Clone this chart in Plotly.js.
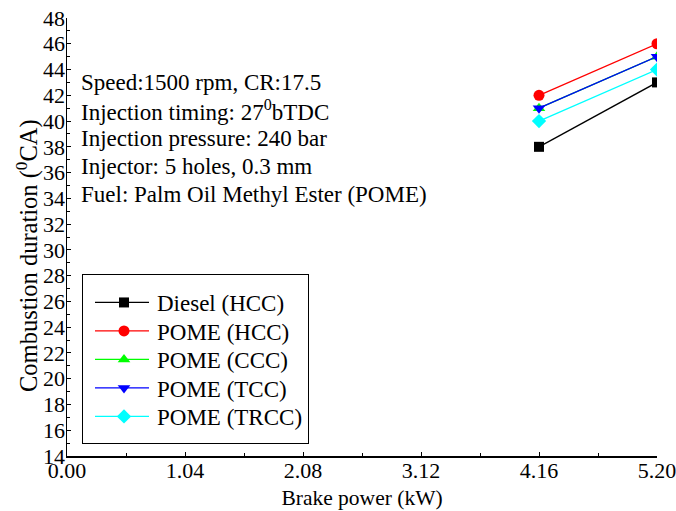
<!DOCTYPE html>
<html>
<head>
<meta charset="utf-8">
<script src="https://cdn.plot.ly/plotly-3.0.1.min.js"></script>
<style>html,body{margin:0;padding:0;background:#fff;}#chart{width:676px;height:511px;}</style>
</head>
<body>
<div id="chart"></div>
<script>
const brakePower = [4.16, 5.20];
const seriesNames = ["Diesel (HCC)", "POME (HCC)", "POME (CCC)", "POME (TCC)", "POME (TRCC)"];
const dieselHCC = [38, 43];
const pomeHCC = [42, 46];
const pomeCCC = [41, 45];
const pomeTCC = [41, 45];
const pomeTRCC = [40, 44];
const xTickVals = [0.00, 1.04, 2.08, 3.12, 4.16, 5.20];
const xTickText = ["0.00", "1.04", "2.08", "3.12", "4.16", "5.20"];
const xTitle = "Brake power (kW)";
const yTitle = "Combustion duration (<sup>0</sup>CA)";
const infoLines = [
  "Speed:1500 rpm, CR:17.5",
  "Injection timing: 27<sup>0</sup>bTDC",
  "Injection pressure: 240 bar",
  "Injector: 5 holes, 0.3 mm",
  "Fuel: Palm Oil Methyl Ester (POME)"
];

const FONT = "Liberation Serif";
const colors = ["#000000", "#FF0000", "#00FF00", "#0000FF", "#00FFFF"];
const symbols = ["square", "circle", "triangle-up", "triangle-down", "diamond"];
const sizes = [10, 11, 11, 11, 11];
const values = [dieselHCC, pomeHCC, pomeCCC, pomeTCC, pomeTRCC];

const traces = values.map((v, i) => ({
  x: brakePower, y: v, name: seriesNames[i], type: "scatter", mode: "lines+markers",
  line: {color: colors[i], width: 1.3},
  marker: {color: colors[i], symbol: symbols[i], size: sizes[i]},
  cliponaxis: true
}));

const L = 67, R = 657, T = 18, B = 456;
const px2x = p => (p - L) / (R - L);
const px2y = p => (B - p) / (B - T);
const linePx = [83, 110, 138, 167, 195];
const annotations = infoLines.map((t, i) => ({
  text: t, xref: "paper", yref: "paper",
  x: px2x(79), y: px2y(linePx[i]),
  xanchor: "left", yanchor: "middle", showarrow: false, align: "left",
  font: {family: FONT, size: 23, color: "#000"}
}));
annotations.push({
  text: yTitle, xref: "paper", yref: "paper", x: px2x(27), y: px2y(256),
  xanchor: "center", yanchor: "middle", textangle: -90, showarrow: false,
  font: {family: FONT, size: 24.5, color: "#000"}
});

const layout = {
  width: 676, height: 511,
  margin: {l: L, r: 676 - R, t: T, b: 511 - B, pad: 0},
  paper_bgcolor: "#fff", plot_bgcolor: "#fff",
  font: {family: FONT, color: "#000"},
  showlegend: true,
  legend: {
    x: px2x(82), y: px2y(274), xanchor: "left", yanchor: "top",
    bordercolor: "#000", borderwidth: 1, bgcolor: "#fff",
    font: {family: FONT, size: 23, color: "#000"},
    tracegroupgap: 0, itemwidth: 64
  },
  xaxis: {
    range: [0, 5.20], tickvals: xTickVals, ticktext: xTickText,
    showline: true, linecolor: "#000", linewidth: 1.5, mirror: false,
    showgrid: false, zeroline: false,
    ticks: "inside", ticklen: 4, tickcolor: "#000",
    minor: {ticks: "inside", ticklen: 3, dtick: 0.52, tickcolor: "#000", showgrid: false},
    tickfont: {family: FONT, size: 22, color: "#000"},
    ticklabelstandoff: -6, ticklabeloverflow: "allow",
    title: {text: xTitle, font: {family: FONT, size: 21.5, color: "#000"}, standoff: 8}
  },
  yaxis: {
    range: [14, 48], dtick: 2, tick0: 14,
    showline: true, linecolor: "#000", linewidth: 1.5, mirror: false,
    showgrid: false, zeroline: false,
    ticks: "inside", ticklen: 4, tickcolor: "#000",
    minor: {ticks: "inside", ticklen: 3, dtick: 1, tickcolor: "#000", showgrid: false},
    tickfont: {family: FONT, size: 22, color: "#000"},
    ticklabelstandoff: -4, ticklabeloverflow: "allow"
  },
  annotations: annotations
};

function parseT(el) {
  const m = /translate\(\s*([-\d.]+)[ ,]+([-\d.]+)\s*\)/.exec(el.getAttribute("transform") || "");
  return m ? [parseFloat(m[1]), parseFloat(m[2])] : [0, 0];
}

Plotly.newPlot("chart", traces, layout, {displayModeBar: false, staticPlot: true}).then(function (gd) {
  const leg = gd.querySelector(".legend");
  if (!leg) return;
  const items = Array.from(leg.querySelectorAll(".traces"));
  if (!items.length) return;
  const p0 = parseT(items[0]);
  items.forEach(function (it, i) {
    const p = parseT(it);
    it.setAttribute("transform", "translate(" + p[0] + "," + (p0[1] + 6 + i * 28.5) + ")");
    it.querySelectorAll(".legendlines path").forEach(function (p) { p.setAttribute("d", "M12,0h54"); });
    it.querySelectorAll(".legendpoints path").forEach(function (p) { p.setAttribute("transform", "translate(41,0)"); });
  });
  const bg = leg.querySelector("rect.bg");
  if (bg) bg.setAttribute("height", 169);
});
</script>
</body>
</html>
